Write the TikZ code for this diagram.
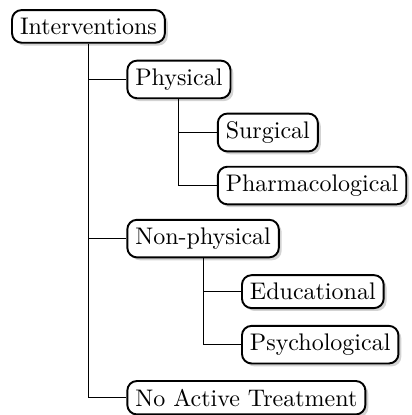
\documentclass[tikz,border=0pt]{standalone}
\usetikzlibrary{calc,shadows}
\tikzset{
  box/.style={draw, line width=0.8pt, rounded corners=4pt, fill=white,
    anchor=west,
    drop shadow={shadow xshift=1.2pt, shadow yshift=-1.2pt, opacity=0.35}},
  link/.style={line width=0.45pt}
}
\begin{document}
\begin{tikzpicture}
  \useasboundingbox (0,0) rectangle (171.25pt,-172.9pt);
  \node[box] (interv) at (4.6pt,-11.0pt) {Interventions};
  \node[box] (physical) at ($(interv.center)+(15.8pt,-22.1pt)$) {Physical};
  \node[box] (surgical) at ($(physical.center)+(15.8pt,-22.1pt)$) {Surgical};
  \node[box] (pharma) at ($(surgical.west)+(0,-22.1pt)$) {Pharmacological};
  \node[box] (nonphys) at ($(interv.center)+(15.8pt,-4*22.1pt)$) {Non-physical};
  \node[box] (edu) at ($(nonphys.center)+(15.8pt,-22.1pt)$) {Educational};
  \node[box] (psych) at ($(edu.west)+(0,-22.1pt)$) {Psychological};
  \node[box] (none) at ($(interv.center)+(15.8pt,-7*22.1pt)$) {No Active Treatment};
  \begin{scope}[link]
    \draw (interv.south) |- (physical.west);
    \draw (interv.south) |- (nonphys.west);
    \draw (interv.south) |- (none.west);
    \draw (physical.south) |- (surgical.west);
    \draw (physical.south) |- (pharma.west);
    \draw (nonphys.south) |- (edu.west);
    \draw (nonphys.south) |- (psych.west);
  \end{scope}
\end{tikzpicture}
\end{document}
